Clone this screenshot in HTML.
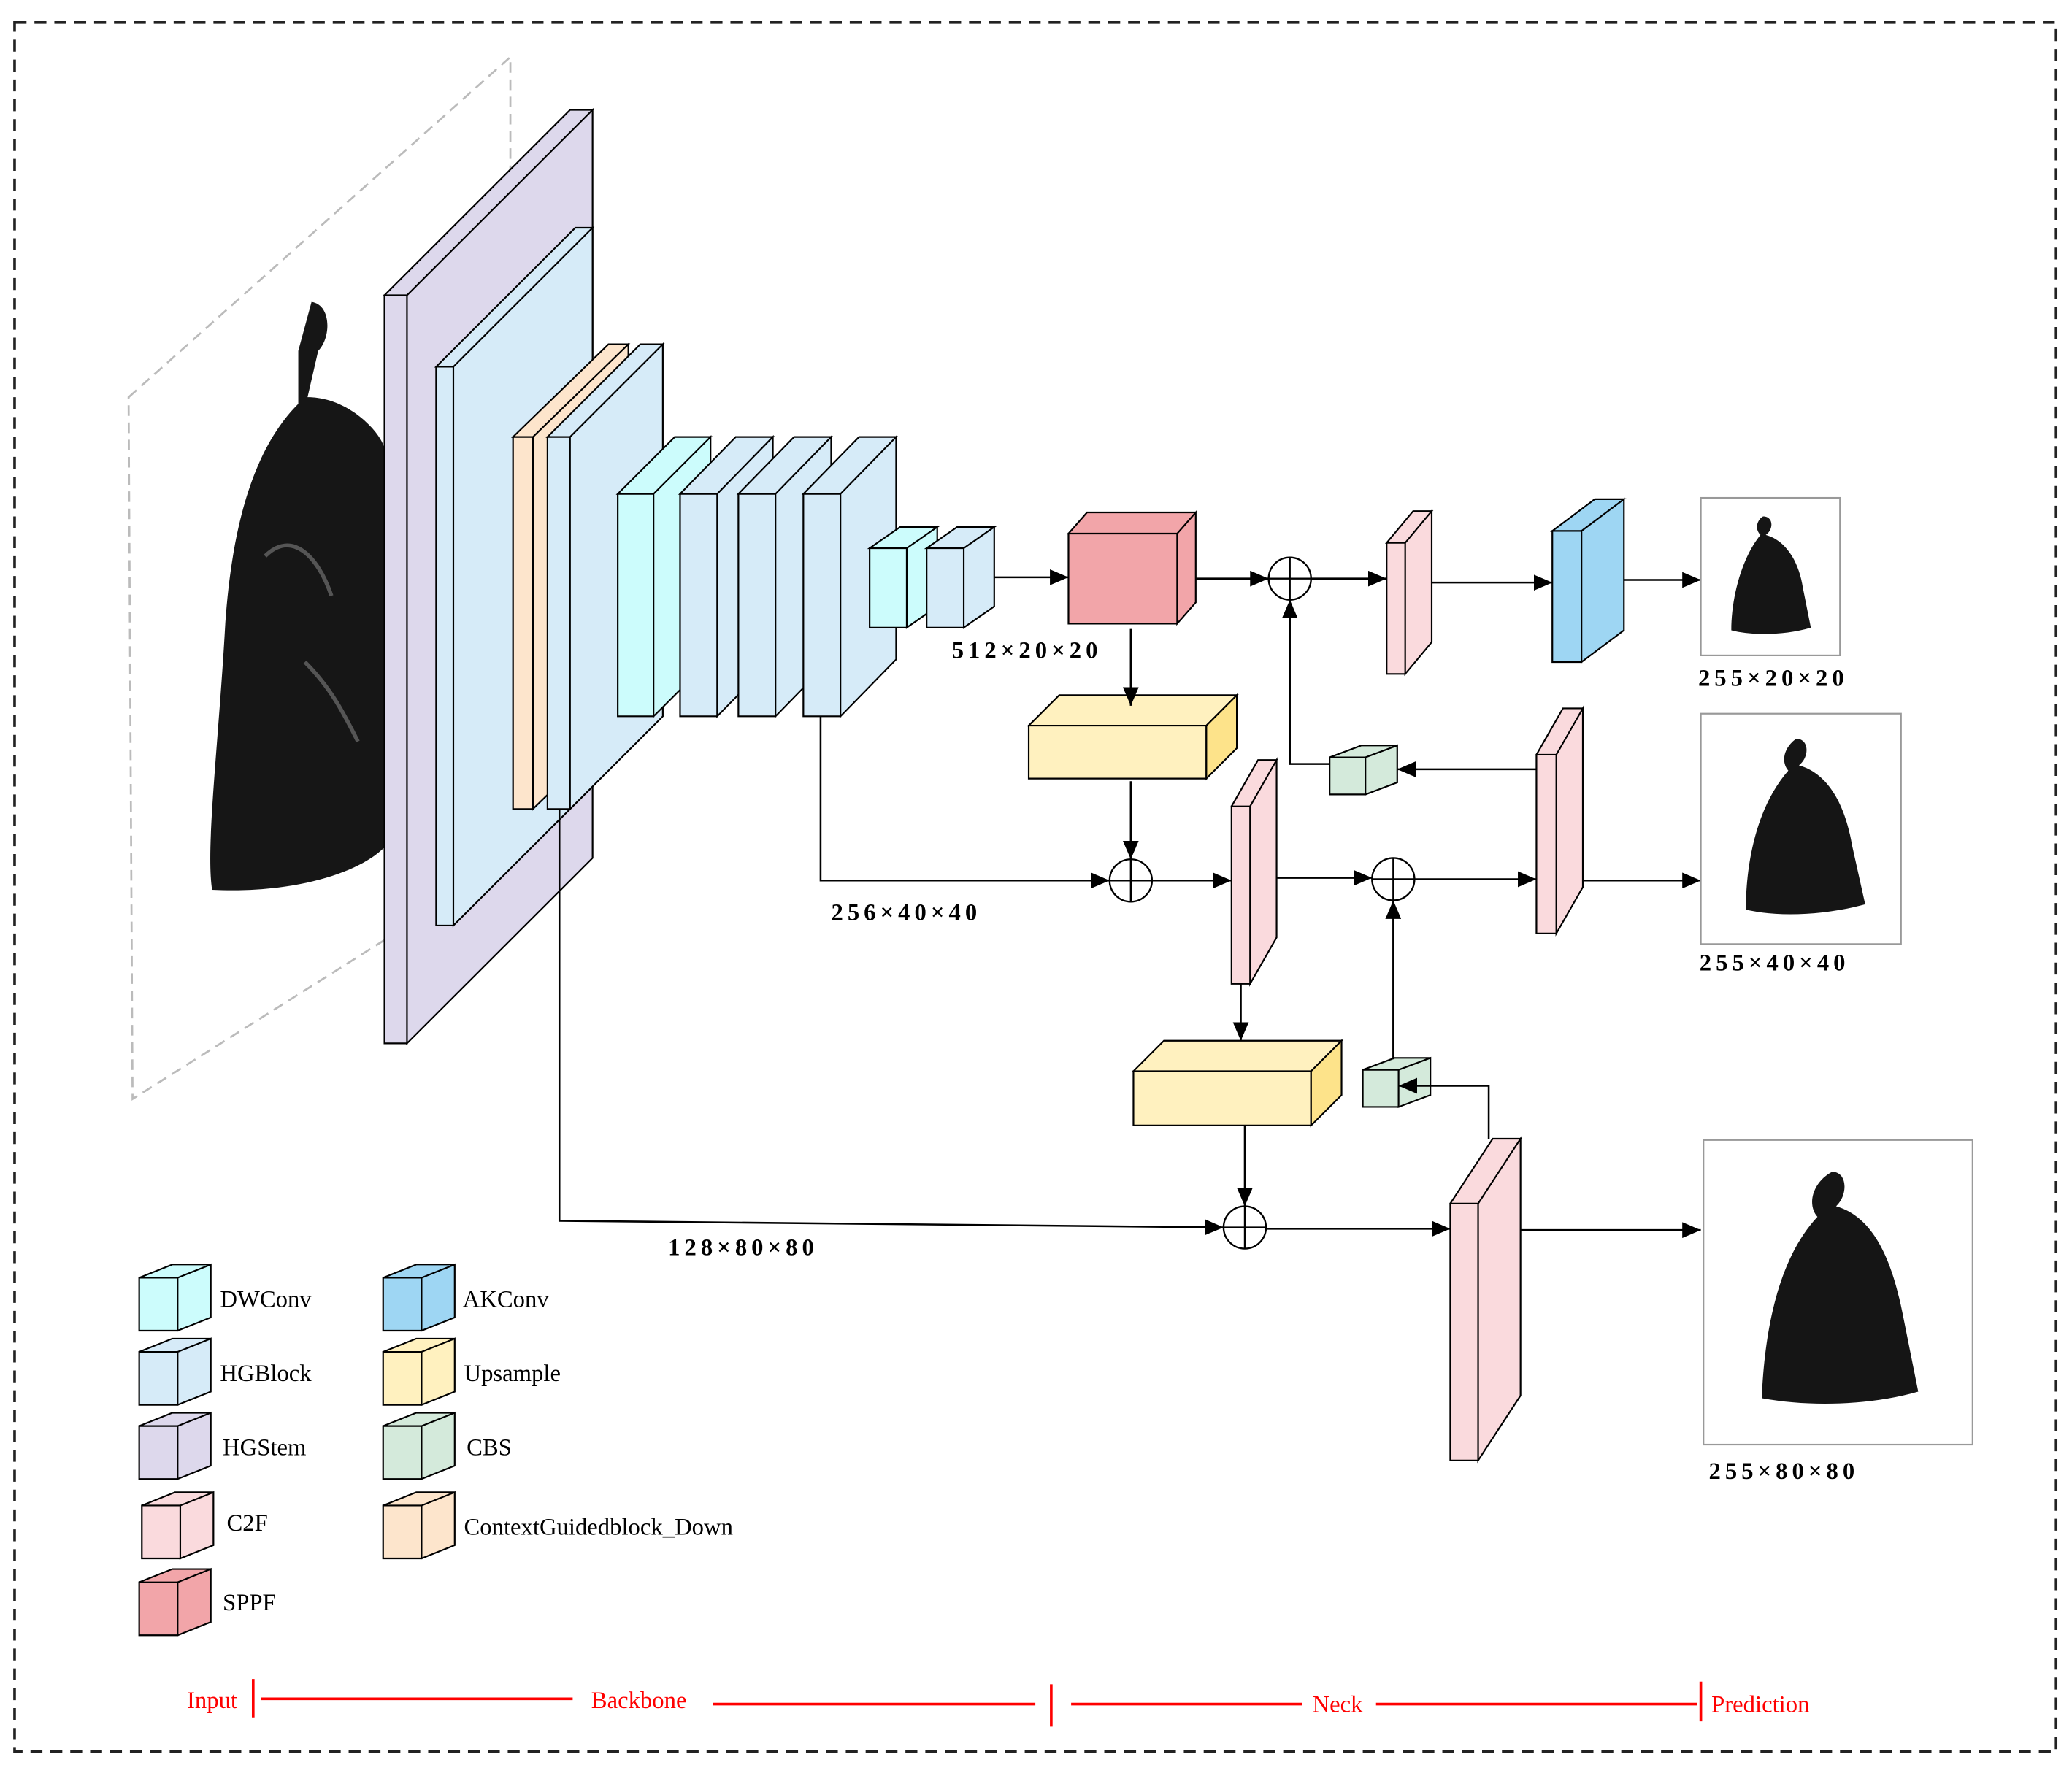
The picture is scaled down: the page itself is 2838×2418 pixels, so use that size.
<!DOCTYPE html>
<html><head><meta charset="utf-8"><style>
html,body{margin:0;padding:0;background:#fff;}
svg{display:block;}
text{font-family:"Liberation Serif",serif;}
.d{font-weight:bold;font-size:18px;}
.l{font-size:18px;}
.r{font-size:18px;fill:#f00;}
</style></head><body>
<svg width="2838" height="2418" viewBox="0 0 1563 1333" preserveAspectRatio="none" xmlns="http://www.w3.org/2000/svg">
<defs>
<marker id="a" markerWidth="14" markerHeight="12" refX="14" refY="6" orient="auto" markerUnits="userSpaceOnUse" viewBox="0 0 14 12"><path d="M0,0L14,6L0,12z" fill="#000"/></marker>
</defs>
<rect x="11" y="17" width="1540" height="1306" fill="none" stroke="#222" stroke-width="2" stroke-dasharray="9,6"/>
<polygon points="97,300 385,43 385,650 100,830" fill="none" stroke="#bbb" stroke-width="1.5" stroke-dasharray="8,5"/>
<path d="M235,228 C250,230 250,255 240,265 L232,300 C265,300 290,330 290,340 L290,640 C270,660 220,675 160,672 C155,640 165,560 170,470 C175,400 190,340 225,305 L225,265 Z" fill="#161616"/>
<path d="M200,420 C220,400 240,420 250,450 M230,500 C250,520 260,540 270,560" stroke="#555" stroke-width="3" fill="none"/>
<g stroke="#000" stroke-width="1.2">
<path fill="#ddd8ec" d="M290,223h17v565h-17zM290,223l140,-140h17l-140,140zm17,0l140,-140v565l-140,140z"/>
<path fill="#d6ebf8" d="M329,277h13v422h-13zM329,277l105,-105h13l-105,105zm13,0l105,-105v422l-105,105z"/>
<path fill="#fde5cc" d="M387,330h15v281h-15zM387,330l72,-70h15l-72,70zm15,0l72,-70v281l-72,70z"/>
<path fill="#d6ebf8" d="M413,330h17v281h-17zM413,330l70,-70h17l-70,70zm17,0l70,-70v281l-70,70z"/>
<path fill="#ccfcfc" d="M466,373h27v168h-27zM466,373l43,-43h27l-43,43zm27,0l43,-43v168l-43,43z"/>
<path fill="#d6ebf8" d="M513,373h28v168h-28zM513,373l42,-43h28l-42,43zm28,0l42,-43v168l-42,43z"/>
<path fill="#d6ebf8" d="M557,373h28v168h-28zM557,373l42,-43h28l-42,43zm28,0l42,-43v168l-42,43z"/>
<path fill="#d6ebf8" d="M606,373h28v168h-28zM606,373l42,-43h28l-42,43zm28,0l42,-43v168l-42,43z"/>
<path fill="#ccfcfc" d="M656,414h28v60h-28zM656,414l23,-16h28l-23,16zm28,0l23,-16v60l-23,16z"/>
<path fill="#d6ebf8" d="M699,414h28v60h-28zM699,414l23,-16h28l-23,16zm28,0l23,-16v60l-23,16z"/>
<path fill="#f2a5a9" d="M806,403h82v68h-82zM806,403l14,-16h82l-14,16zm82,0l14,-16v68l-14,16z"/>
<path fill="#fff1bf" d="M776,548h134v40h-134zM776,548l23,-23h134l-23,23z"/>
<path fill="#fde38a" d="M910,548l23,-23v40l-23,23z"/>
<path fill="#fadadd" d="M1046,410h14v99h-14zM1046,410l20,-24h14l-20,24zm14,0l20,-24v99l-20,24z"/>
<path fill="#9ed6f3" d="M1171,401h22v99h-22zM1171,401l32,-24h22l-32,24zm22,0l32,-24v99l-32,24z"/>
<path fill="#d4eadb" d="M1003,572h27v28h-27zM1003,572l24,-9h27l-24,9zm27,0l24,-9v28l-24,9z"/>
<path fill="#fadadd" d="M1159,570h15v135h-15zM1159,570l20,-35h15l-20,35zm15,0l20,-35v135l-20,35z"/>
<path fill="#fadadd" d="M929,609h14v134h-14zM929,609l20,-35h14l-20,35zm14,0l20,-35v134l-20,35z"/>
<path fill="#fff1bf" d="M855,809h134v41h-134zM855,809l23,-23h134l-23,23z"/>
<path fill="#fde38a" d="M989,809l23,-23v41l-23,23z"/>
<path fill="#d4eadb" d="M1028,808h27v28h-27zM1028,808l24,-9h27l-24,9zm27,0l24,-9v28l-24,9z"/>
<path fill="#fadadd" d="M1094,909h21v194h-21zM1094,909l32,-49h21l-32,49zm21,0l32,-49v194l-32,49z"/>
<path fill="#ccfcfc" d="M105,965h29v40h-29zM105,965l25,-10h29l-25,10zm29,0l25,-10v40l-25,10z"/>
<path fill="#d6ebf8" d="M105,1021h29v40h-29zM105,1021l25,-10h29l-25,10zm29,0l25,-10v40l-25,10z"/>
<path fill="#ddd8ec" d="M105,1077h29v40h-29zM105,1077l25,-10h29l-25,10zm29,0l25,-10v40l-25,10z"/>
<path fill="#fadadd" d="M107,1137h29v40h-29zM107,1137l25,-10h29l-25,10zm29,0l25,-10v40l-25,10z"/>
<path fill="#f2a5a9" d="M105,1195h29v40h-29zM105,1195l25,-10h29l-25,10zm29,0l25,-10v40l-25,10z"/>
<path fill="#9ed6f3" d="M289,965h29v40h-29zM289,965l25,-10h29l-25,10zm29,0l25,-10v40l-25,10z"/>
<path fill="#fff1bf" d="M289,1021h29v40h-29zM289,1021l25,-10h29l-25,10zm29,0l25,-10v40l-25,10z"/>
<path fill="#d4eadb" d="M289,1077h29v40h-29zM289,1077l25,-10h29l-25,10zm29,0l25,-10v40l-25,10z"/>
<path fill="#fde5cc" d="M289,1137h29v40h-29zM289,1137l25,-10h29l-25,10zm29,0l25,-10v40l-25,10z"/>
</g>
<g stroke="#000" stroke-width="1.4" fill="none">
<line x1="750" y1="436" x2="806" y2="436" marker-end="url(#a)"/>
<line x1="902" y1="437" x2="957" y2="437" marker-end="url(#a)"/>
<line x1="989" y1="437" x2="1046" y2="437" marker-end="url(#a)"/>
<line x1="1080" y1="440" x2="1171" y2="440" marker-end="url(#a)"/>
<line x1="1225" y1="438" x2="1283" y2="438" marker-end="url(#a)"/>
<line x1="853" y1="475" x2="853" y2="533" marker-end="url(#a)"/>
<line x1="853" y1="590" x2="853" y2="649" marker-end="url(#a)"/>
<polyline points="619,541 619,665 837,665" marker-end="url(#a)"/>
<line x1="869" y1="665" x2="929" y2="665" marker-end="url(#a)"/>
<line x1="963" y1="663" x2="1035" y2="663" marker-end="url(#a)"/>
<line x1="1067" y1="664" x2="1159" y2="664" marker-end="url(#a)"/>
<line x1="1194" y1="665" x2="1283" y2="665" marker-end="url(#a)"/>
<line x1="1159" y1="581" x2="1054" y2="581" marker-end="url(#a)"/>
<polyline points="1003,577 973,577 973,453" marker-end="url(#a)"/>
<line x1="936" y1="743" x2="936" y2="786" marker-end="url(#a)"/>
<line x1="939" y1="850" x2="939" y2="911" marker-end="url(#a)"/>
<line x1="1051" y1="800" x2="1051" y2="680" marker-end="url(#a)"/>
<polyline points="1123,860 1123,820 1055,820" marker-end="url(#a)"/>
<polyline points="422,611 422,922 923,927" marker-end="url(#a)"/>
<line x1="955" y1="928" x2="1094" y2="928" marker-end="url(#a)"/>
<line x1="1147" y1="929" x2="1283" y2="929" marker-end="url(#a)"/>
</g>
<g stroke="#000" stroke-width="1.3" fill="#fff">
<circle cx="973" cy="437" r="16"/><path d="M957,437h32M973,421v32"/>
<circle cx="853" cy="665" r="16"/><path d="M837,665h32M853,649v32"/>
<circle cx="1051" cy="664" r="16"/><path d="M1035,664h32M1051,648v32"/>
<circle cx="939" cy="927" r="16"/><path d="M923,927h32M939,911v32"/>
</g>
<g stroke="#999" stroke-width="1.2" fill="#fff">
<rect x="1283" y="376" width="105" height="119"/>
<rect x="1283" y="539" width="151" height="174"/>
<rect x="1285" y="861" width="203" height="230"/>
</g>
<g fill="#151515">
<path d="M1330,390 c8,0 8,10 2,14 c15,4 25,20 28,40 l6,30 c-20,6 -45,6 -60,2 c0,-25 8,-55 22,-72 c-5,-5 -2,-12 2,-14z"/>
<path d="M1355,558 c10,0 10,14 2,20 c22,6 35,30 40,60 l10,45 c-30,8 -65,10 -90,4 c0,-40 10,-80 32,-105 c-6,-7 -3,-18 6,-24z"/>
<path d="M1382,885 c12,0 12,18 3,26 c28,8 42,40 50,80 l12,60 c-35,10 -80,12 -118,5 c2,-50 12,-105 42,-137 c-8,-9 -4,-26 11,-34z"/>
</g>
<g class="d">
<text x="718" y="497" textLength="110" lengthAdjust="spacing">512×20×20</text>
<text x="627" y="695" textLength="110" lengthAdjust="spacing">256×40×40</text>
<text x="504" y="948" textLength="110" lengthAdjust="spacing">128×80×80</text>
<text x="1281" y="518" textLength="110" lengthAdjust="spacing">255×20×20</text>
<text x="1282" y="733" textLength="110" lengthAdjust="spacing">255×40×40</text>
<text x="1289" y="1117" textLength="110" lengthAdjust="spacing">255×80×80</text>
</g>
<g class="l">
<text x="166" y="987">DWConv</text>
<text x="166" y="1043">HGBlock</text>
<text x="168" y="1099">HGStem</text>
<text x="171" y="1156">C2F</text>
<text x="168" y="1216">SPPF</text>
<text x="349" y="987">AKConv</text>
<text x="350" y="1043">Upsample</text>
<text x="352" y="1099">CBS</text>
<text x="350" y="1159">ContextGuidedblock_Down</text>
</g>
<g stroke="#f00" stroke-width="2">
<line x1="191" y1="1268" x2="191" y2="1297"/>
<line x1="197" y1="1283" x2="432" y2="1283"/>
<line x1="538" y1="1287" x2="781" y2="1287"/>
<line x1="793" y1="1272" x2="793" y2="1304"/>
<line x1="808" y1="1287" x2="982" y2="1287"/>
<line x1="1038" y1="1287" x2="1280" y2="1287"/>
<line x1="1283" y1="1270" x2="1283" y2="1300"/>
</g>
<g class="r">
<text x="141" y="1290">Input</text>
<text x="446" y="1290">Backbone</text>
<text x="990" y="1293">Neck</text>
<text x="1291" y="1293">Prediction</text>
</g>
</svg>
</body></html>
